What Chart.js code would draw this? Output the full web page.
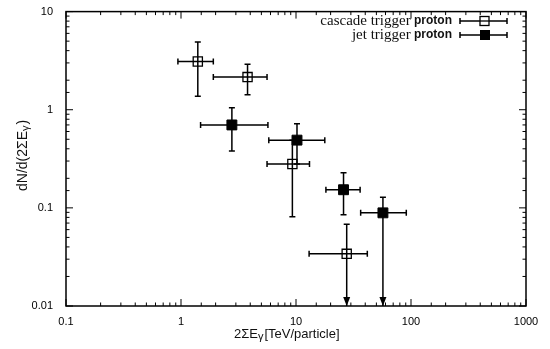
<!DOCTYPE html>
<html>
<head>
<meta charset="utf-8">
<script src="https://cdn.jsdelivr.net/npm/chart.js@4"></script>
<style>
  html, body { margin: 0; padding: 0; background: #fff; }
  #wrap { width: 550px; height: 349px; }
</style>
</head>
<body>
<div id="wrap"><canvas id="spectrum" width="550" height="349"></canvas></div>
<script>
// tick labels
const xTickLabels = ['0.1', '1', '10', '100', '1000'];
const yTickLabels = ['0.01', '0.1', '1', '10'];

// cascade trigger proton (open squares)
const cascadeE    = [1.40, 3.79, 9.3, 27.6];
const cascadeN    = [3.1, 2.15, 0.28, 0.034];
const cascadeELo  = [0.94, 1.91, 5.6, 13.0];
const cascadeEHi  = [1.91, 5.6, 13.1, 41.7];
const cascadeNLo  = [1.37, 1.42, 0.081, 0.01];
const cascadeNHi  = [4.9, 2.9, 0.49, 0.068];
const cascadeLimit = [false, false, false, true];

// jet trigger proton (filled squares)
const jetE    = [2.77, 10.2, 25.9, 57];
const jetN    = [0.70, 0.49, 0.153, 0.089];
const jetELo  = [1.48, 5.8, 18.2, 36.5];
const jetEHi  = [5.7, 17.8, 36.1, 91];
const jetNLo  = [0.38, 0.28, 0.085, 0.01];
const jetNHi  = [1.05, 0.72, 0.228, 0.128];
const jetLimit = [false, false, false, true];

const toPoints = (xs, ys) => xs.map((x, i) => ({ x: x, y: ys[i] }));
const isDecade = v => Math.abs(Math.log10(v) - Math.round(Math.log10(v))) < 1e-6;
const labelFor = (list, v) => {
    if (!isDecade(v)) return '';
    const hit = list.find(s => Math.abs(parseFloat(s) - v) < 1e-9 * Math.max(1, v));
    return hit || '';
};

const errors = [
    { lo: cascadeELo, hi: cascadeEHi, nlo: cascadeNLo, nhi: cascadeNHi, limit: cascadeLimit },
    { lo: jetELo, hi: jetEHi, nlo: jetNLo, nhi: jetNHi, limit: jetLimit }
];

// error bars with caps, arrow for upper limits
const errorBars = {
    id: 'errorBars',
    afterDatasetsDraw(chart) {
        const { ctx, scales: { x, y } } = chart;
        ctx.save();
        ctx.strokeStyle = '#000';
        ctx.fillStyle = '#000';
        ctx.lineWidth = 1.5;
        chart.data.datasets.forEach((ds, d) => {
            const e = errors[d];
            ds.data.forEach((p, i) => {
                const cx = x.getPixelForValue(p.x), cy = y.getPixelForValue(p.y);
                const x0 = x.getPixelForValue(e.lo[i]), x1 = x.getPixelForValue(e.hi[i]);
                const y0 = y.getPixelForValue(e.nlo[i]), y1 = y.getPixelForValue(e.nhi[i]);
                ctx.beginPath();
                ctx.moveTo(x0, cy); ctx.lineTo(x1, cy);
                ctx.moveTo(x0, cy - 3); ctx.lineTo(x0, cy + 3);
                ctx.moveTo(x1, cy - 3); ctx.lineTo(x1, cy + 3);
                ctx.moveTo(cx, y1); ctx.lineTo(cx, y0);
                ctx.moveTo(cx - 3, y1); ctx.lineTo(cx + 3, y1);
                if (!e.limit[i]) {
                    ctx.moveTo(cx - 3, y0); ctx.lineTo(cx + 3, y0);
                }
                ctx.stroke();
                if (e.limit[i]) {
                    ctx.beginPath();
                    ctx.moveTo(cx, y0);
                    ctx.lineTo(cx - 3.5, y0 - 9);
                    ctx.lineTo(cx + 3.5, y0 - 9);
                    ctx.closePath();
                    ctx.fill();
                }
            });
        });
        ctx.restore();
    }
};

// frame, inward ticks, axis titles, legend
const frame = {
    id: 'frame',
    afterDraw(chart) {
        const { ctx, chartArea: a, scales: { x, y } } = chart;
        ctx.save();
        ctx.strokeStyle = '#000';
        ctx.lineWidth = 1.5;
        ctx.strokeRect(a.left, a.top, a.right - a.left, a.bottom - a.top);
        ctx.lineWidth = 1;
        ctx.beginPath();
        x.ticks.forEach(t => {
            const px = x.getPixelForValue(t.value);
            const len = isDecade(t.value) ? 7 : 3.5;
            ctx.moveTo(px, a.bottom); ctx.lineTo(px, a.bottom - len);
            ctx.moveTo(px, a.top); ctx.lineTo(px, a.top + len);
        });
        y.ticks.forEach(t => {
            const py = y.getPixelForValue(t.value);
            const len = isDecade(t.value) ? 7 : 3.5;
            ctx.moveTo(a.left, py); ctx.lineTo(a.left + len, py);
            ctx.moveTo(a.right, py); ctx.lineTo(a.right - len, py);
        });
        ctx.stroke();

        // x title: 2ΣEγ[TeV/particle]
        ctx.fillStyle = '#111';
        ctx.textBaseline = 'alphabetic';
        ctx.textAlign = 'left';
        const big = '13px "Liberation Sans", Arial, sans-serif';
        const sub = '11px "Liberation Sans", Arial, sans-serif';
        let tx = 234, ty = 338;
        ctx.font = big; ctx.fillText('2ΣE', tx, ty); tx += ctx.measureText('2ΣE').width;
        ctx.font = sub; ctx.fillText('γ', tx, ty + 2); tx += ctx.measureText('γ').width + 1;
        ctx.font = big; ctx.fillText('[TeV/particle]', tx, ty);

        // y title: dN/d(2ΣEγ)
        ctx.save();
        ctx.translate(27, 0);
        ctx.rotate(-Math.PI / 2);
        let s = -191;
        const bigY = '14px "Liberation Sans", Arial, sans-serif';
        ctx.font = bigY; ctx.fillText('dN/d(2ΣE', s, 0); s += ctx.measureText('dN/d(2ΣE').width;
        ctx.font = sub; ctx.fillText('γ', s, 2); s += ctx.measureText('γ').width + 1;
        ctx.font = bigY; ctx.fillText(')', s, 0);
        ctx.restore();

        // legend
        const rows = [
            { name: 'cascade trigger', filled: false, y: 21 },
            { name: 'jet trigger', filled: true, y: 35 }
        ];
        rows.forEach((r, i) => {
            const label = chart.data.datasets[i].label;
            ctx.textBaseline = 'middle';
            ctx.textAlign = 'right';
            ctx.font = 'bold 12px "Liberation Sans", Arial, sans-serif';
            ctx.fillStyle = '#111';
            const tail = label.slice(r.name.length);
            ctx.fillText(tail, 452, r.y);
            const tw = ctx.measureText(tail).width;
            ctx.font = '15px "Liberation Serif", "Times New Roman", serif';
            ctx.fillText(r.name, 452 - tw, r.y);
            ctx.strokeStyle = '#000';
            ctx.lineWidth = 1.5;
            ctx.beginPath();
            ctx.moveTo(460, r.y); ctx.lineTo(507, r.y);
            ctx.moveTo(460, r.y - 3); ctx.lineTo(460, r.y + 3);
            ctx.moveTo(507, r.y - 3); ctx.lineTo(507, r.y + 3);
            ctx.stroke();
            if (r.filled) {
                ctx.fillStyle = '#000';
                ctx.fillRect(480, r.y - 5, 10, 10);
            } else {
                ctx.fillStyle = '#fff';
                ctx.fillRect(480, r.y - 4.5, 9, 9);
                ctx.lineWidth = 1.3;
                ctx.strokeRect(480, r.y - 4.5, 9, 9);
                ctx.beginPath();
                ctx.moveTo(480, r.y); ctx.lineTo(489, r.y);
                ctx.stroke();
            }
        });
        ctx.restore();
    }
};

new Chart(document.getElementById('spectrum'), {
    type: 'scatter',
    data: {
        datasets: [
            {
                label: 'cascade trigger proton',
                data: toPoints(cascadeE, cascadeN),
                pointStyle: 'rect',
                pointRadius: 6.5,
                backgroundColor: '#fff',
                borderColor: '#000',
                borderWidth: 1.3
            },
            {
                label: 'jet trigger proton',
                data: toPoints(jetE, jetN),
                pointStyle: 'rect',
                pointRadius: 7,
                backgroundColor: '#000',
                borderColor: '#000',
                borderWidth: 1
            }
        ]
    },
    options: {
        responsive: false,
        animation: false,
        devicePixelRatio: 1,
        layout: { padding: { top: 6, right: 24, left: 0, bottom: 0 } },
        plugins: {
            legend: { display: false },
            tooltip: { enabled: false }
        },
        scales: {
            x: {
                type: 'logarithmic',
                min: 0.1,
                max: 1000,
                grid: { display: false },
                border: { display: false },
                afterFit(scale) { scale.height = 43; },
                ticks: {
                    autoSkip: false,
                    maxRotation: 0,
                    padding: 1,
                    color: '#000',
                    font: { family: '"Liberation Sans", Arial, sans-serif', size: 11 },
                    callback: v => labelFor(xTickLabels, v)
                }
            },
            y: {
                type: 'logarithmic',
                min: 0.01,
                max: 10,
                grid: { display: false },
                border: { display: false },
                afterFit(scale) { scale.width = 66; },
                ticks: {
                    autoSkip: false,
                    padding: 5,
                    color: '#000',
                    font: { family: '"Liberation Sans", Arial, sans-serif', size: 11 },
                    callback: v => labelFor(yTickLabels, v)
                }
            }
        }
    },
    plugins: [errorBars, frame]
});
</script>
</body>
</html>
